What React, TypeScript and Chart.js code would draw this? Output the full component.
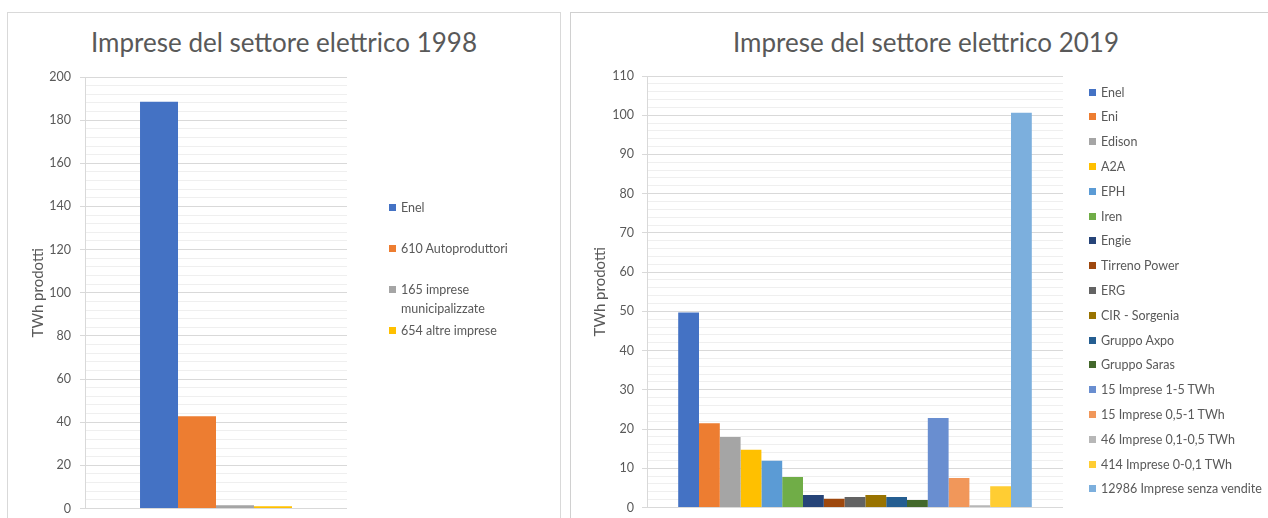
import React, { useEffect, useRef } from "react";
import { Chart, registerables } from "chart.js";

Chart.register(...registerables);

const FONT = "Lato, 'Open Sans', sans-serif";
const TEXT = "#595959";

const yAxisTitle = "TWh prodotti";

const title1998 = "Imprese del settore elettrico 1998";
const series1998 = ["Enel", "610 Autoproduttori", "165 imprese municipalizzate", "654 altre imprese"];
const values1998 = [188.5, 42.8, 1.5, 1.1];
const colors1998 = ["#4472C4", "#ED7D31", "#A5A5A5", "#FFC000"];
const yMax1998 = 200;
const yMajor1998 = 20;
const yMinor1998 = 4;

const title2019 = "Imprese del settore elettrico 2019";
const series2019 = [
  "Enel",
  "Eni",
  "Edison",
  "A2A",
  "EPH",
  "Iren",
  "Engie",
  "Tirreno Power",
  "ERG",
  "CIR - Sorgenia",
  "Gruppo Axpo",
  "Gruppo Saras",
  "15 Imprese 1-5 TWh",
  "15 Imprese 0,5-1 TWh",
  "46 Imprese 0,1-0,5 TWh",
  "414 Imprese 0-0,1 TWh",
  "12986 Imprese senza vendite",
];
const values2019 = [49.7, 21.5, 18.0, 14.7, 11.9, 7.8, 3.2, 2.2, 2.7, 3.2, 2.7, 1.9, 22.8, 7.5, 0.6, 5.4, 100.6];
const colors2019 = [
  "#4472C4",
  "#ED7D31",
  "#A5A5A5",
  "#FFC000",
  "#5B9BD5",
  "#70AD47",
  "#264478",
  "#9E480E",
  "#636363",
  "#997300",
  "#255E91",
  "#43682B",
  "#698ED0",
  "#F1975A",
  "#B7B7B7",
  "#FFCD33",
  "#7CAFDD",
];
const yMax2019 = 110;
const yMajor2019 = 10;
const yMinor2019 = 2;

type PanelProps = {
  series: string[];
  values: number[];
  colors: string[];
  yMax: number;
  yMajor: number;
  yMinor: number;
  catPct: number;
  left: number;
  top: number;
  width: number;
  height: number;
  padding: { left: number; top: number; right: number; bottom: number };
  axisWidth: number;
  axisTitlePad: number;
  tickPad: number;
};

function BarPanel(p: PanelProps) {
  const ref = useRef<HTMLCanvasElement>(null);
  useEffect(() => {
    if (!ref.current) return;
    const isMajor = (v: any) =>
      v !== undefined && Math.abs(Number(v) / p.yMajor - Math.round(Number(v) / p.yMajor)) < 1e-6;
    const chart = new Chart(ref.current, {
      type: "bar",
      data: {
        labels: [""],
        datasets: p.series.map((s, i) => ({
          label: s,
          data: [p.values[i]],
          backgroundColor: p.colors[i],
          borderWidth: 0,
          barPercentage: 1,
          categoryPercentage: p.catPct,
        })),
      },
      options: {
        responsive: false,
        animation: false,
        layout: { padding: p.padding },
        plugins: {
          legend: { display: false },
          tooltip: { enabled: false },
          title: { display: false },
        },
        scales: {
          x: { display: false },
          y: {
            min: 0,
            max: p.yMax,
            afterBuildTicks: (scale: any) => {
              const t: { value: number }[] = [];
              const n = Math.round(p.yMax / p.yMinor);
              for (let k = 0; k <= n; k++) t.push({ value: k * p.yMinor });
              scale.ticks = t;
            },
            afterFit: (scale: any) => {
              scale.width = p.axisWidth;
            },
            ticks: {
              autoSkip: false,
              color: TEXT,
              font: { family: FONT, size: 12.5 },
              padding: p.tickPad,
              callback: (v: any) => (isMajor(v) ? String(v) : ""),
            },
            grid: {
              color: (c: any) => (isMajor(c.tick?.value) ? "#d9d9d9" : "#efefef"),
              tickColor: (c: any) => (isMajor(c.tick?.value) ? "#d9d9d9" : "rgba(0,0,0,0)"),
              tickLength: 5,
              lineWidth: 1,
            },
            border: { color: "#d9d9d9", width: 1 },
            title: {
              display: true,
              text: yAxisTitle,
              color: TEXT,
              font: { family: FONT, size: 15 },
              padding: { top: p.axisTitlePad, bottom: 0 },
            },
          } as any,
        },
      },
    });
    return () => chart.destroy();
  }, []);
  return (
    <canvas
      ref={ref}
      width={p.width}
      height={p.height}
      style={{ position: "absolute", left: p.left, top: p.top, width: p.width, height: p.height }}
    />
  );
}

function Legend(props: {
  series: string[];
  colors: string[];
  left: number;
  firstCenter: number;
  step: number;
  textWidth?: number;
}) {
  return (
    <>
      {props.series.map((s, i) => (
        <div
          key={s}
          style={{
            position: "absolute",
            left: props.left,
            top: props.firstCenter + i * props.step - 9.5,
            display: "flex",
            alignItems: "flex-start",
            fontFamily: FONT,
            fontSize: 12.5,
            lineHeight: "19px",
            color: TEXT,
          }}
        >
          <span
            style={{
              width: 7,
              height: 7,
              background: props.colors[i],
              marginTop: 6,
              marginRight: 5,
              flex: "none",
            }}
          />
          <span style={props.textWidth ? { width: props.textWidth } : { whiteSpace: "nowrap" }}>{s}</span>
        </div>
      ))}
    </>
  );
}

function Title(props: { text: string; left: number; width: number }) {
  return (
    <div
      style={{
        position: "absolute",
        left: props.left,
        width: props.width,
        top: 26,
        textAlign: "center",
        fontFamily: FONT,
        fontSize: 26,
        lineHeight: "32px",
        color: TEXT,
        whiteSpace: "nowrap",
      }}
    >
      {props.text}
    </div>
  );
}

export default function App() {
  return (
    <div
      style={{
        position: "absolute",
        left: 0,
        top: 0,
        width: 1268,
        height: 518,
        overflow: "hidden",
        background: "#ffffff",
      }}
    >
      <div
        style={{
          position: "absolute",
          left: 7,
          top: 12,
          width: 554,
          height: 540,
          border: "1px solid #d9d9d9",
          boxSizing: "border-box",
        }}
      />
      <div
        style={{
          position: "absolute",
          left: 570,
          top: 12,
          width: 740,
          height: 540,
          border: "1px solid #d0d0d0",
          boxSizing: "border-box",
        }}
      />
      <Title text={title1998} left={7} width={554} />
      <Title text={title2019} left={570} width={712} />
      <BarPanel
        series={series1998}
        values={values1998}
        colors={colors1998}
        yMax={yMax1998}
        yMajor={yMajor1998}
        yMinor={yMinor1998}
        catPct={0.58}
        left={7}
        top={12}
        width={554}
        height={513}
        padding={{ left: 0, top: 65, right: 214, bottom: 3 }}
        axisWidth={78}
        axisTitlePad={22}
        tickPad={9}
      />
      <BarPanel
        series={series2019}
        values={values2019}
        colors={colors2019}
        yMax={yMax2019}
        yMajor={yMajor2019}
        yMinor={yMinor2019}
        catPct={0.85}
        left={570}
        top={12}
        width={698}
        height={511}
        padding={{ left: 0, top: 64, right: 205, bottom: 3 }}
        axisWidth={77}
        axisTitlePad={21}
        tickPad={8}
      />
      <Legend series={series1998} colors={colors1998} left={389} firstCenter={207} step={41.3} textWidth={135} />
      <Legend series={series2019} colors={colors2019} left={1089} firstCenter={92} step={24.8} />
    </div>
  );
}
